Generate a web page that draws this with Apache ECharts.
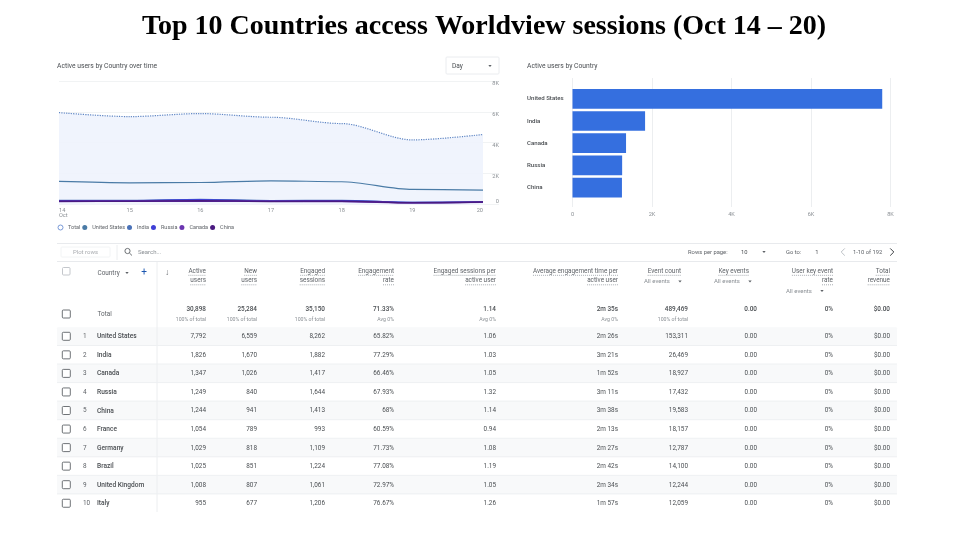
<!DOCTYPE html>
<html>
<head>
<meta charset="utf-8">
<title>Top 10 Countries access Worldview sessions</title>
<script src="https://cdn.jsdelivr.net/npm/echarts@6/dist/echarts.min.js"></script>
<style>
html, body { margin: 0; padding: 0; background: #fff; }
#main { width: 955px; height: 535px; }
</style>
</head>
<body>
<div id="main"></div>
<script>
// line chart data
var days = ['14\nOct', '15', '16', '17', '18', '19', '20']
var totalLine = [5950, 5690, 5890, 5650, 5240, 4180, 4530]
var unitedStatesLine = [1490, 1400, 1420, 1530, 1470, 970, 930]
var indiaLine = [260, 250, 320, 240, 260, 130, 170]
var russiaLine = [230, 240, 300, 220, 240, 120, 150]
var canadaLine = [190, 200, 220, 200, 180, 110, 140]
var chinaLine = [210, 210, 240, 190, 210, 100, 160]

// bar chart data
var barCountries = ['United States', 'India', 'Canada', 'Russia', 'China']
var barUsers = [7792, 1826, 1347, 1249, 1244]

// table data
var rowCountries = ['United States', 'India', 'Canada', 'Russia', 'China', 'France', 'Germany', 'Brazil', 'United Kingdom', 'Italy']
var activeUsers = ['7,792', '1,826', '1,347', '1,249', '1,244', '1,054', '1,029', '1,025', '1,008', '955']
var newUsers = ['6,559', '1,670', '1,026', '840', '941', '789', '818', '851', '807', '677']
var engagedSessions = ['8,262', '1,882', '1,417', '1,644', '1,413', '993', '1,109', '1,224', '1,061', '1,206']
var engagementRate = ['65.82%', '77.29%', '66.46%', '67.93%', '68%', '60.59%', '71.73%', '77.08%', '72.97%', '76.67%']
var sessionsPerUser = ['1.06', '1.03', '1.05', '1.32', '1.14', '0.94', '1.08', '1.19', '1.05', '1.26']
var avgTime = ['2m 26s', '3m 21s', '1m 52s', '3m 11s', '3m 38s', '2m 13s', '2m 27s', '2m 42s', '2m 34s', '1m 57s']
var eventCount = ['153,311', '26,469', '18,927', '17,432', '19,583', '18,157', '12,787', '14,100', '12,244', '12,059']
var keyEvents = ['0.00', '0.00', '0.00', '0.00', '0.00', '0.00', '0.00', '0.00', '0.00', '0.00']
var userKeyRate = ['0%', '0%', '0%', '0%', '0%', '0%', '0%', '0%', '0%', '0%']
var totalRevenue = ['$0.00', '$0.00', '$0.00', '$0.00', '$0.00', '$0.00', '$0.00', '$0.00', '$0.00', '$0.00']
var totalsRow = ['30,898', '25,284', '35,150', '71.33%', '1.14', '2m 35s', '489,469', '0.00', '0%', '$0.00']
var totalsSub = ['100% of total', '100% of total', '100% of total', 'Avg 0%', 'Avg 0%', 'Avg 0%', '100% of total', '', '', '']
var headers = [['Active', 'users'], ['New', 'users'], ['Engaged', 'sessions'], ['Engagement', 'rate'],
    ['Engaged sessions per', 'active user'], ['Average engagement time per', 'active user'],
    ['Event count'], ['Key events'], ['User key event', 'rate'], ['Total', 'revenue']]

var tableColumns = [activeUsers, newUsers, engagedSessions, engagementRate, sessionsPerUser, avgTime, eventCount, keyEvents, userKeyRate, totalRevenue]

// layout of the table
var colRight = [206, 257, 325, 394, 496, 618, 688, 757, 833, 890]
var headRight = [206, 257, 325, 394, 496, 618, 681, 749, 833, 890]
var FONT = 'Roboto'
var TEXT = '#4a4e52'
var MUTED = '#8a8f94'
var LINE = '#e8eaed'

var measure = document.createElement('canvas').getContext('2d')
var els = []

function txt(s, x, y, o) {
    o = o || {}
    els.push({
        type: 'text', silent: true,
        style: {
            text: s, x: x, y: y + 0.4, align: o.align || 'left', verticalAlign: 'middle',
            fontFamily: FONT, fontSize: o.size || 6.4, fontWeight: o.weight || 400, fill: o.color || TEXT
        }
    })
}
function hline(x1, x2, y, color, dash) {
    els.push({
        type: 'line', silent: true, shape: { x1: x1, y1: y, x2: x2, y2: y },
        style: { stroke: color || LINE, lineWidth: 1, lineDash: dash || null }
    })
}
function vline(x, y1, y2) {
    els.push({ type: 'line', silent: true, shape: { x1: x, y1: y1, x2: x, y2: y2 }, style: { stroke: '#eceef0', lineWidth: 1 } })
}
function box(x, y, w, h, fill, stroke) {
    els.push({
        type: 'rect', silent: true, shape: { x: x, y: y, width: w, height: h, r: 1 },
        style: { fill: fill || 'none', stroke: stroke || 'none', lineWidth: 0.9 }
    })
}
function caret(x, y, color) {
    els.push({
        type: 'polygon', silent: true, shape: { points: [[x - 1.7, y - 0.9], [x + 1.7, y - 0.9], [x, y + 1.1]] },
        style: { fill: color || '#5f6368' }
    })
}
function chevron(x, y, dir, color) {
    els.push({
        type: 'polyline', silent: true, shape: { points: [[x - dir * 1.8, y - 3.6], [x + dir * 1.8, y], [x - dir * 1.8, y + 3.6]] },
        style: { stroke: color, fill: 'none', lineWidth: 1 }
    })
}

// chart headers
txt('Active users by Country over time', 57, 66, { size: 6.75 })
txt('Active users by Country', 527, 66, { size: 6.75 })
box(446, 57, 53, 17, '#fff', LINE)
txt('Day', 452, 66, { size: 6.5 })
caret(490, 66)

// zebra rows go first so that lines and text stay on top
var rowY = []
for (var r = 0; r < rowCountries.length; r++) {
    rowY.push(336.3 + r * 18.55)
    if (r % 2 === 0) box(57, rowY[r] - 9, 840, 18.2, '#f8f9fa')
}

// toolbar
hline(57, 897, 243.5)
hline(57, 897, 261.5)
box(61, 247, 49, 10, '#fff', '#f1f3f4')
txt('Plot rows', 85.5, 252, { align: 'center', color: '#a8abaf', size: 6 })
vline(117, 245, 260)
els.push({ type: 'circle', silent: true, shape: { cx: 127.5, cy: 251, r: 2.6 }, style: { fill: 'none', stroke: '#5f6368', lineWidth: 0.9 } })
els.push({ type: 'line', silent: true, shape: { x1: 129.4, y1: 253, x2: 132, y2: 255.5 }, style: { stroke: '#5f6368', lineWidth: 0.9 } })
txt('Search...', 138, 252, { color: MUTED, size: 6 })
txt('Rows per page:', 688, 252, { size: 5.8, color: '#5f6368' })
txt('10', 741, 252, { size: 5.8 })
caret(764, 252)
txt('Go to:', 786, 252, { size: 5.8, color: '#5f6368' })
txt('1', 817, 252, { size: 5.8, align: 'center' })
chevron(843, 252, -1, '#bdc1c6')
txt('1-10 of 192', 853, 252, { size: 5.8, color: '#5f6368' })
chevron(892, 252, 1, '#3c4043')

// table head
box(62.5, 267.5, 7.5, 7.5, '#fff', '#bdc1c6')
txt('Country', 97.5, 273, { color: '#5f6368' })
caret(127, 273)
txt('+', 144, 272.5, { color: '#1a56b0', size: 10, align: 'center' })
txt('\u2193', 167, 272, { color: '#5f6368', size: 8.5, align: 'center' })
vline(157, 262, 512)
headers.forEach(function (lines, c) {
    lines.forEach(function (s, l) {
        var y = 271 + l * 9.5
        txt(s, headRight[c], y, { align: 'right', color: '#5f6368' })
        measure.font = '6.4px ' + FONT
        hline(headRight[c] - measure.measureText(s).width, headRight[c], y + 4.3, '#a8adb2', [1, 1])
    })
})
txt('All events', 644, 281.5, { color: MUTED, size: 6 })
caret(680, 281.5)
txt('All events', 714, 281.5, { color: MUTED, size: 6 })
caret(750, 281.5)
txt('All events', 786, 291, { color: MUTED, size: 6 })
caret(822, 291)

// totals row
box(62.3, 310, 8, 8, '#fff', '#5f6368')
txt('Total', 97.5, 314, { color: '#5f6368' })
totalsRow.forEach(function (s, c) {
    txt(s, colRight[c], 309, { align: 'right', weight: 500 })
    if (totalsSub[c]) txt(totalsSub[c], colRight[c], 319, { align: 'right', color: MUTED, size: 5.2 })
})

// country rows
rowCountries.forEach(function (name, r) {
    var y = rowY[r]
    box(62.3, y - 4, 8, 8, '#fff', '#5f6368')
    txt(String(r + 1), 83, y, { color: '#5f6368' })
    txt(name, 97, y, { weight: 500, size: 6.6 })
    tableColumns.forEach(function (col, c) {
        txt(col[r], colRight[c], y, { align: 'right' })
    })
    if (r < rowCountries.length - 1) hline(57, 897, y + 9.2, '#eef0f2')
})

function kFormat(v) {
    return v === 0 ? '0' : v / 1000 + 'K'
}
function lineSeries(name, data, color, width, dotted) {
    return {
        name: name, type: 'line', data: data, xAxisIndex: 0, yAxisIndex: 0,
        symbol: 'none', smooth: 0.3, smoothMonotone: 'x',
        itemStyle: { color: color },
        lineStyle: { color: color, width: width, type: dotted ? 'dotted' : 'solid' }
    }
}

var total = lineSeries('Total', totalLine, '#5f86c4', 1.2, true)
total.areaStyle = { color: '#eef3fd', opacity: 0.9 }

var option = {
    animation: false,
    backgroundColor: '#fff',
    textStyle: { fontFamily: FONT },
    title: {
        text: 'Top 10 Countries access Worldview sessions (Oct 14 \u2013 20)',
        left: 479, top: 8, textAlign: 'center',
        textStyle: { fontFamily: 'Liberation Serif', fontSize: 28, fontWeight: 'bold', color: '#000' }
    },
    legend: {
        left: 57.5, top: 224.5, padding: 0, icon: 'circle', itemWidth: 5, itemHeight: 5, itemGap: 2,
        textStyle: { fontSize: 5.5, color: '#5f6368' },
        data: [
            { name: 'Total', itemStyle: { color: '#fff', borderColor: '#7a9ad8', borderWidth: 1 } },
            'United States', 'India', 'Russia', 'Canada', 'China'
        ]
    },
    grid: [
        { left: 59, top: 81, width: 424, height: 123.4 },
        { left: 59, top: 81, width: 440, height: 123.4 },
        { left: 572.5, top: 87.7, width: 318, height: 111 },
        { left: 572.5, top: 78, width: 318, height: 129 }
    ],
    xAxis: [
        {
            gridIndex: 0, type: 'category', boundaryGap: false, data: days,
            axisLine: { show: false }, axisTick: { show: false },
            axisLabel: {
                fontSize: 5.6, color: MUTED, margin: 3, interval: 0, lineHeight: 5.5,
                alignMinLabel: 'left', alignMaxLabel: 'right'
            }
        },
        { gridIndex: 1, type: 'value', min: 0, max: 1, show: false },
        {
            gridIndex: 2, type: 'value', min: 0, max: 8000, show: false
        },
        {
            gridIndex: 3, type: 'value', min: 0, max: 8000, interval: 2000,
            axisLine: { show: false }, axisTick: { show: false },
            splitLine: { show: true, lineStyle: { color: '#eceef0', width: 1 } },
            axisLabel: { fontSize: 5.6, color: MUTED, margin: 5, formatter: kFormat }
        }
    ],
    yAxis: [
        { gridIndex: 0, type: 'value', min: 0, max: 8000, show: false },
        {
            gridIndex: 1, type: 'value', min: 0, max: 8000, interval: 2000, position: 'right',
            axisLine: { show: false }, axisTick: { show: false },
            splitLine: { show: true, lineStyle: { color: '#f1f3f4', width: 1 } },
            axisLabel: {
                fontSize: 5.6, color: MUTED, margin: 0, align: 'right', formatter: kFormat,
                verticalAlign: 'top', verticalAlignMinLabel: 'bottom'
            }
        },
        {
            gridIndex: 2, type: 'category', inverse: true, data: barCountries,
            axisLine: { show: false }, axisTick: { show: false },
            axisLabel: { fontSize: 6.1, fontWeight: 500, color: TEXT, align: 'left', margin: 45.5, padding: [1.5, 0, 0, 0] }
        },
        { gridIndex: 3, type: 'value', min: 0, max: 1, show: false }
    ],
    series: [
        total,
        lineSeries('United States', unitedStatesLine, '#4a7ba6', 1.2),
        lineSeries('India', indiaLine, '#4a72b8', 1.5),
        lineSeries('Russia', russiaLine, '#3f3fd6', 1.5),
        lineSeries('Canada', canadaLine, '#6b35b0', 1.5),
        lineSeries('China', chinaLine, '#4a1a80', 1.5),
        {
            name: 'Active users', type: 'bar', xAxisIndex: 2, yAxisIndex: 2,
            data: barUsers, barWidth: 19.7, itemStyle: { color: '#356fdf' }
        }
    ],
    graphic: { elements: els }
}

var myEcharts = echarts.init(document.getElementById('main'))
myEcharts.setOption(option)
</script>
</body>
</html>
